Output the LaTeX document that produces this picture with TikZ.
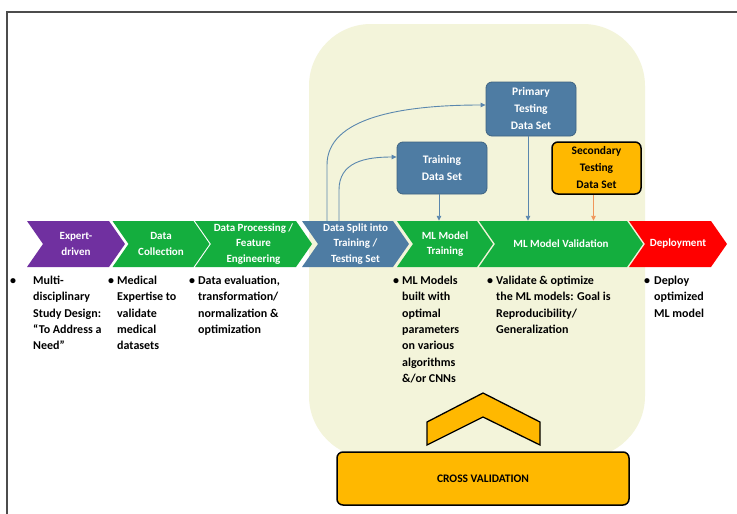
\documentclass[tikz,border=0pt]{standalone}
\usepackage{fontspec}
\setmainfont{Carlito}
\usetikzlibrary{arrows.meta}
\definecolor{cpurple}{HTML}{7030A0}
\definecolor{cgreen}{HTML}{14AE3E}
\definecolor{cblue}{HTML}{4E7CA3}
\definecolor{cred}{HTML}{FF0000}
\definecolor{cyel}{HTML}{FFB800}
\definecolor{cbg}{HTML}{F3F4DA}
\definecolor{cline}{HTML}{5A87AE}
\definecolor{corange}{HTML}{F0965A}
\tikzset{
  chev/.style={minimum height=46pt, inner sep=0pt, text=white, align=center,
    font=\fontsize{11}{15.5}\selectfont\bfseries,
    path picture={\fill[#1] (path picture bounding box.north west)
      -- ([xshift=-16pt]path picture bounding box.north east)
      -- (path picture bounding box.east)
      -- ([xshift=-16pt]path picture bounding box.south east)
      -- (path picture bounding box.south west)
      -- ([xshift=16pt]path picture bounding box.west) -- cycle;}},
  dbox/.style={rounded corners=6pt, fill=cblue, draw=cblue!80!black, line width=0.8pt,
    text=white, align=center, inner sep=0pt, font=\fontsize{11.5}{17}\selectfont\bfseries},
  sbox/.style={rounded corners=6pt, fill=cyel, draw=black, line width=1.5pt,
    text=black, align=center, inner sep=0pt, font=\fontsize{11.5}{17}\selectfont\bfseries},
  btxt/.style={anchor=north west, inner sep=0pt, align=left, text=black,
    font=\fontsize{12}{16.3}\selectfont\bfseries},
  conn/.style={draw=cline, line width=0.9pt, -{Triangle[length=5pt,width=4.5pt]}},
  border/.style={draw=black!70, line width=1.1pt}
}
\begin{document}
\begin{tikzpicture}[x=1pt,y=-1pt]
\useasboundingbox (0,0) rectangle (737,514);
\fill[white] (0,0) rectangle (737,514);
\draw[border] (7,514) -- (7,12) -- (737,12);
\fill[cbg, rounded corners=62pt] (309,24) rectangle (645,458);

% chevrons
\node[chev=cpurple, minimum width=98pt] (c1) at (76,244) {Expert-\\driven};
\node[chev=cgreen, minimum width=97pt] (c2) at (161,244) {Data\\Collection};
\node[chev=cgreen, minimum width=117pt] (c3) at (253.5,244) {Data Processing /\\Feature\\Engineering};
\node[chev=cblue, minimum width=107pt] (c4) at (355.5,244) {Data Split into\\Training /\\Testing Set};
\node[chev=cgreen, minimum width=96pt] (c5) at (445,244) {ML Model\\Training};
\node[chev=cgreen, minimum width=164pt] (c6) at (561,244) {ML Model Validation};
\node[chev=cred, minimum width=98pt] (c7) at (678,244) {Deployment};

% data set boxes
\node[dbox, minimum width=90pt, minimum height=54pt] (pr) at (531,109) {Primary\\Testing\\Data Set};
\node[dbox, minimum width=90pt, minimum height=52pt] (tr) at (442,168) {Training\\Data Set};
\node[sbox, minimum width=89pt, minimum height=52pt] (sc) at (596.5,168) {Secondary\\Testing\\Data Set};

% connectors
\draw[conn] ([xshift=-3pt]tr.south) -- ([xshift=-3pt]tr.south |- c5.north);
\draw[conn] ([xshift=-3pt]pr.south) -- ([xshift=-3pt]pr.south |- c6.north);
\draw[conn, draw=corange] ([xshift=-3pt]sc.south) -- ([xshift=-3pt]sc.south |- c6.north);
\draw[conn] ([xshift=-28.5pt]c4.north) -- (327,165) .. controls (327,118) and (400,105) .. ([yshift=4pt]pr.west);
\draw[conn] ([xshift=-16.5pt]c4.north) -- (339,190) .. controls (339,162) and (365,157) .. ([yshift=11pt]tr.west);

% bullet texts
\node[btxt] (t1) at (33,276) {\llap{•\hspace{17pt}}Multi-\\disciplinary\\Study Design:\\“To Address a\\Need”};
\node[btxt] (t2) at (117,276) {\llap{•\hspace{3pt}}Medical\\Expertise to\\validate\\medical\\datasets};
\node[btxt] (t3) at (198,276) {\llap{•\hspace{3pt}}Data evaluation,\\transformation/\\normalization \&\\optimization};
\node[btxt] (t4) at (402,276) {\llap{•\hspace{3pt}}ML Models\\built with\\optimal\\parameters\\on various\\algorithms\\\&/or CNNs};
\node[btxt] (t5) at (496,276) {\llap{•\hspace{3pt}}Validate \& optimize\\the ML models: Goal is\\Reproducibility/\\Generalization};
\node[btxt] (t6) at (654,276) {\llap{•\hspace{4pt}}Deploy\\optimized\\ML model};

% cross validation
\filldraw[fill=cyel, draw=black, line width=1.3pt, line join=miter]
  (483,393) -- (540,422) -- (540,445) -- (483,417) -- (427,445) -- (427,422) -- cycle;
\node[sbox, minimum width=292pt, minimum height=53pt, font=\fontsize{11.5}{14}\selectfont\bfseries] (cv) at (483,478.5) {CROSS VALIDATION};
\end{tikzpicture}
\end{document}
